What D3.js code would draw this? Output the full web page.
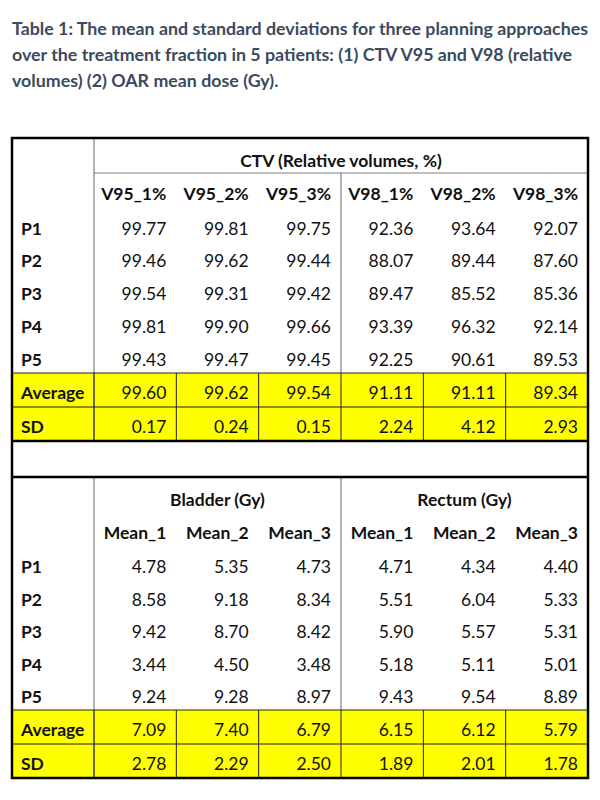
<!DOCTYPE html>
<html>
<head>
<meta charset="utf-8">
<script src="https://cdn.jsdelivr.net/npm/d3@7"></script>
<style>
  body { margin: 0; background: #fff; }
  svg text { font-family: Lato, "Open Sans", sans-serif; }
</style>
</head>
<body>
<div id="table"></div>
<script>
// title lines
const title_lines = [
    "Table 1: The mean and standard deviations for three planning approaches",
    "over the treatment fraction in 5 patients: (1) CTV V95 and V98 (relative",
    "volumes) (2) OAR mean dose (Gy)."
]

const patients = ["P1", "P2", "P3", "P4", "P5"]

// CTV part
const ctv_title = "CTV (Relative volumes, %)"
const ctv_cols = ["V95_1%", "V95_2%", "V95_3%", "V98_1%", "V98_2%", "V98_3%"]
const ctv_values = [
    [99.77, 99.81, 99.75, 92.36, 93.64, 92.07],
    [99.46, 99.62, 99.44, 88.07, 89.44, 87.60],
    [99.54, 99.31, 99.42, 89.47, 85.52, 85.36],
    [99.81, 99.90, 99.66, 93.39, 96.32, 92.14],
    [99.43, 99.47, 99.45, 92.25, 90.61, 89.53]
]
const ctv_average = [99.60, 99.62, 99.54, 91.11, 91.11, 89.34]
const ctv_sd = [0.17, 0.24, 0.15, 2.24, 4.12, 2.93]

// OAR part
const oar_groups = ["Bladder (Gy)", "Rectum (Gy)"]
const oar_cols = ["Mean_1", "Mean_2", "Mean_3", "Mean_1", "Mean_2", "Mean_3"]
const oar_values = [
    [4.78, 5.35, 4.73, 4.71, 4.34, 4.40],
    [8.58, 9.18, 8.34, 5.51, 6.04, 5.33],
    [9.42, 8.70, 8.42, 5.90, 5.57, 5.31],
    [3.44, 4.50, 3.48, 5.18, 5.11, 5.01],
    [9.24, 9.28, 8.97, 9.43, 9.54, 8.89]
]
const oar_average = [7.09, 7.40, 6.79, 6.15, 6.12, 5.79]
const oar_sd = [2.78, 2.29, 2.50, 1.89, 2.01, 1.78]

const stat_labels = ["Average", "SD"]

function draw_table() {
    var width = 600, height = 800;
    var left = 12, right = 588, label_w = 82;
    var fmt = d3.format(".2f");
    var font_size = 17.5;
    var gray = "#808080", dark = "#222";
    var yellow = "#ffff00";

    var svg = d3.select("#table").append("svg")
        .attr("width", width)
        .attr("height", height);

    // title, shrunk so the first line fills the table width
    var title = svg.selectAll(".title").data(title_lines)
        .enter().append("text")
        .attr("class", "title")
        .attr("x", left)
        .attr("y", function (d, i) { return 35 + i * 26; })
        .attr("font-size", 18.6)
        .attr("font-weight", "bold")
        .attr("fill", "#3b4a5e")
        .text(function (d) { return d; });
    var w0 = title.nodes()[0].getComputedTextLength();
    title.attr("font-size", 18.6 * (right - left) / w0);

    var x = d3.scaleBand()
        .domain(d3.range(6))
        .range([left + label_w, right]);
    var mid = x(3);

    function cell_text(g, y, txt, col, bold) {
        g.append("text")
            .attr("x", x(col) + x.bandwidth() - 10)
            .attr("y", y)
            .attr("dy", "0.35em")
            .attr("text-anchor", "end")
            .attr("font-size", font_size)
            .attr("font-weight", bold ? "bold" : "normal")
            .attr("fill", "#111")
            .text(txt);
    }
    function row_label(g, y, txt) {
        g.append("text")
            .attr("x", left + 9)
            .attr("y", y)
            .attr("dy", "0.35em")
            .attr("font-size", font_size)
            .attr("font-weight", "bold")
            .attr("fill", "#111")
            .text(txt);
    }
    function line(g, x1, y1, x2, y2, color, w) {
        g.append("line")
            .attr("x1", x1).attr("y1", y1)
            .attr("x2", x2).attr("y2", y2)
            .attr("stroke", color)
            .attr("stroke-width", w);
    }

    // one section of the table
    function draw_section(y0, heads, head_spans, cols, values, average, sd, data_h, split_header) {
        var g = svg.append("g");
        var h1 = 35, h2 = 36, stat_h = 34;
        var y_cols = y0 + h1;
        var y_data = y_cols + h2;
        var y_stat = y_data + data_h * values.length;
        var y_end = y_stat + stat_h * 2;
        var text_off = 3;

        // yellow rows
        g.selectAll(".stat-bg").data(stat_labels)
            .enter().append("rect")
            .attr("x", left)
            .attr("y", function (d, i) { return y_stat + i * stat_h; })
            .attr("width", right - left)
            .attr("height", stat_h)
            .attr("fill", yellow);

        // group headers
        heads.forEach(function (h, i) {
            var span = head_spans[i];
            var x1 = x(span[0]), x2 = x(span[1]) + x.bandwidth();
            g.append("text")
                .attr("x", (x1 + x2) / 2)
                .attr("y", y0 + h1 / 2 + text_off + 2)
                .attr("dy", "0.35em")
                .attr("text-anchor", "middle")
                .attr("font-size", font_size)
                .attr("font-weight", "bold")
                .attr("fill", "#111")
                .text(h);
        });
        // column headers
        cols.forEach(function (c, j) { cell_text(g, y_cols + h2 / 2 + text_off, c, j, true); });

        // data rows
        values.forEach(function (row, i) {
            var yc = y_data + i * data_h + data_h / 2 + text_off;
            row_label(g, yc, patients[i]);
            row.forEach(function (v, j) { cell_text(g, yc, fmt(v), j, false); });
        });
        [average, sd].forEach(function (row, i) {
            var yc = y_stat + i * stat_h + stat_h / 2 + text_off;
            row_label(g, yc, stat_labels[i]);
            row.forEach(function (v, j) { cell_text(g, yc, fmt(v), j, false); });
        });

        // grid lines
        line(g, x(0), y0, x(0), y_end, gray, 1.2);
        if (!split_header) line(g, x(0), y_cols, right, y_cols, gray, 1.2);
        line(g, mid, split_header ? y0 : y_cols, mid, y_stat, gray, 1.2);
        line(g, left, y_stat, right, y_stat, dark, 1);
        line(g, left, y_stat + stat_h, right, y_stat + stat_h, dark, 1);
        d3.range(6).forEach(function (j) {
            line(g, x(j), y_stat, x(j), y_end, dark, 1);
        });
        return y_end;
    }

    var top = 138;
    var end1 = draw_section(top, [ctv_title], [[0, 5]], ctv_cols,
        ctv_values, ctv_average, ctv_sd, 32.8, false);
    var gap = 36;
    var end2 = draw_section(end1 + gap, oar_groups, [[0, 2], [3, 5]], oar_cols,
        oar_values, oar_average, oar_sd, 32.4, true);

    // thick lines around the empty row and outer border
    line(svg, left, end1, right, end1, "#000", 2.5);
    line(svg, left, end1 + gap, right, end1 + gap, "#000", 2.5);
    svg.append("rect")
        .attr("x", left)
        .attr("y", top)
        .attr("width", right - left)
        .attr("height", end2 - top)
        .attr("fill", "none")
        .attr("stroke", "#000")
        .attr("stroke-width", 2.5);
}

draw_table();
</script>
</body>
</html>
